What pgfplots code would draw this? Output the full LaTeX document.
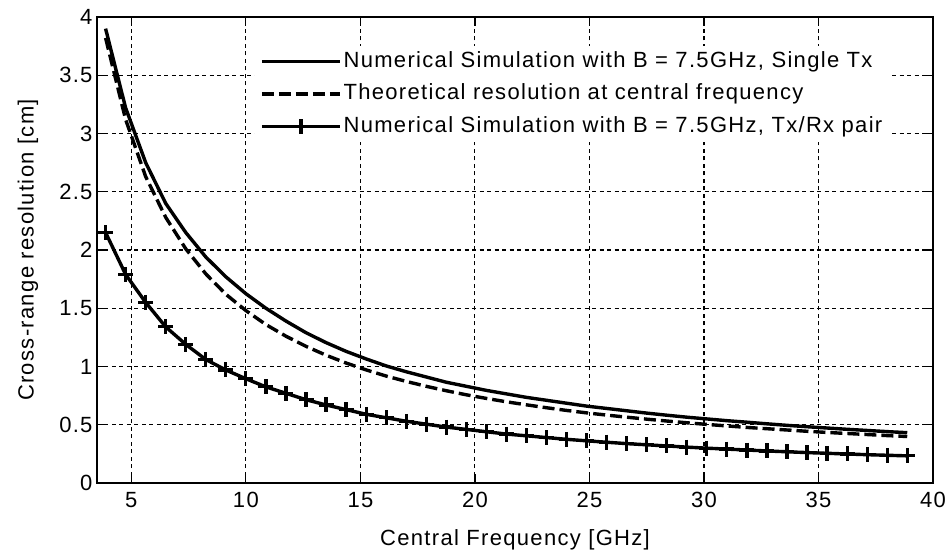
\documentclass[border=0pt]{standalone}
\usepackage{pgfplots}
\pgfplotsset{compat=1.18}
\usepackage{fontspec}
\setmainfont{Liberation Sans}[LetterSpace=6]
\pgfplotstableread{
f single theo pair
3.875 3.90 3.82 2.15
4.75 3.22 3.12 1.79
5.625 2.75 2.63 1.55
6.5 2.40 2.28 1.34
7.375 2.15 2.01 1.19
8.25 1.94 1.795 1.06
9.125 1.77 1.62 0.97
10.0 1.625 1.48 0.895
10.875 1.50 1.36 0.825
11.75 1.39 1.26 0.77
12.625 1.29 1.173 0.715
13.5 1.205 1.097 0.67
14.375 1.13 1.03 0.63
15.25 1.065 0.971 0.59
16.125 1.005 0.918 0.56
17.0 0.955 0.872 0.53
17.875 0.91 0.83 0.505
18.75 0.865 0.792 0.48
19.625 0.83 0.757 0.46
20.5 0.795 0.726 0.44
21.375 0.765 0.697 0.42
22.25 0.735 0.671 0.405
23.125 0.71 0.646 0.39
24.0 0.685 0.623 0.375
24.875 0.66 0.602 0.362
25.75 0.64 0.583 0.35
26.625 0.62 0.565 0.338
27.5 0.60 0.548 0.328
28.375 0.582 0.532 0.318
29.25 0.565 0.517 0.308
30.125 0.55 0.503 0.299
31.0 0.535 0.490 0.291
31.875 0.522 0.477 0.283
32.75 0.508 0.466 0.275
33.625 0.495 0.455 0.268
34.5 0.483 0.444 0.261
35.375 0.472 0.434 0.255
36.25 0.461 0.425 0.249
37.125 0.451 0.416 0.243
38.0 0.441 0.407 0.238
38.875 0.432 0.399 0.233
}\data
\begin{document}
\begin{tikzpicture}
\begin{axis}[
  scale only axis,
  width=836bp, height=466bp,
  xmin=3.5, xmax=40, ymin=0, ymax=4,
  xtick={5,10,...,40},
  ytick={0,0.5,...,4},
  font=\fontsize{22bp}{26bp}\selectfont,
  /pgf/number format/assume math mode=true,
  tick align=inside,
  major tick length=9bp,
  axis line style={line width=1.2bp},
  every tick/.style={black, line width=1.2bp},
  grid=major,
  major grid style={black, line width=1.1bp, dash pattern=on 4bp off 3.5bp},
  xlabel={Central Frequency [GHz]},
  ylabel={Cross-range resolution [cm]},
  xlabel style={at={(axis description cs:0.5,-0.1217)}, anchor=center},
  ylabel style={at={(axis description cs:-0.0825,0.5)}, anchor=center},
  xticklabel style={yshift=-6bp},
  yticklabel style={xshift=-1bp},
  legend cell align=left,
  legend style={at={(axis description cs:0.189,0.938)}, anchor=north west,
    fill=white, draw=none, inner sep=3bp, inner xsep=5bp, row sep=7.5bp,
    nodes={text height=16bp, text depth=5bp, inner sep=2bp},
    /tikz/every even column/.append style={column sep=4bp},
    font=\fontsize{22bp}{26bp}\selectfont},
  legend image code/.code={\draw[mark repeat=2,mark phase=2,#1] plot coordinates {(0bp,0bp) (39bp,0bp) (78bp,0bp)};},
]
\addplot[black, line width=3.4bp] table[x=f,y=single] {\data};
\addlegendentry{Numerical Simulation with B = 7.5GHz, Single Tx}
\addplot[black, line width=3.4bp, dash pattern=on 12bp off 5bp] table[x=f,y=theo] {\data};
\addlegendentry{Theoretical resolution at central frequency}
\addplot[black, line width=3.4bp, mark=+, mark size=7.5bp, mark options={line width=3.2bp, solid}] table[x=f,y=pair] {\data};
\addlegendentry{Numerical Simulation with B = 7.5GHz, Tx/Rx pair}
\end{axis}
\pgfresetboundingbox
\path (current axis.south west) ++(-97bp,-68bp) coordinate (bl);
\path (current axis.north east) ++(17bp,17bp) coordinate (tr);
\path[use as bounding box] (bl) rectangle (tr);
\end{tikzpicture}
\end{document}
